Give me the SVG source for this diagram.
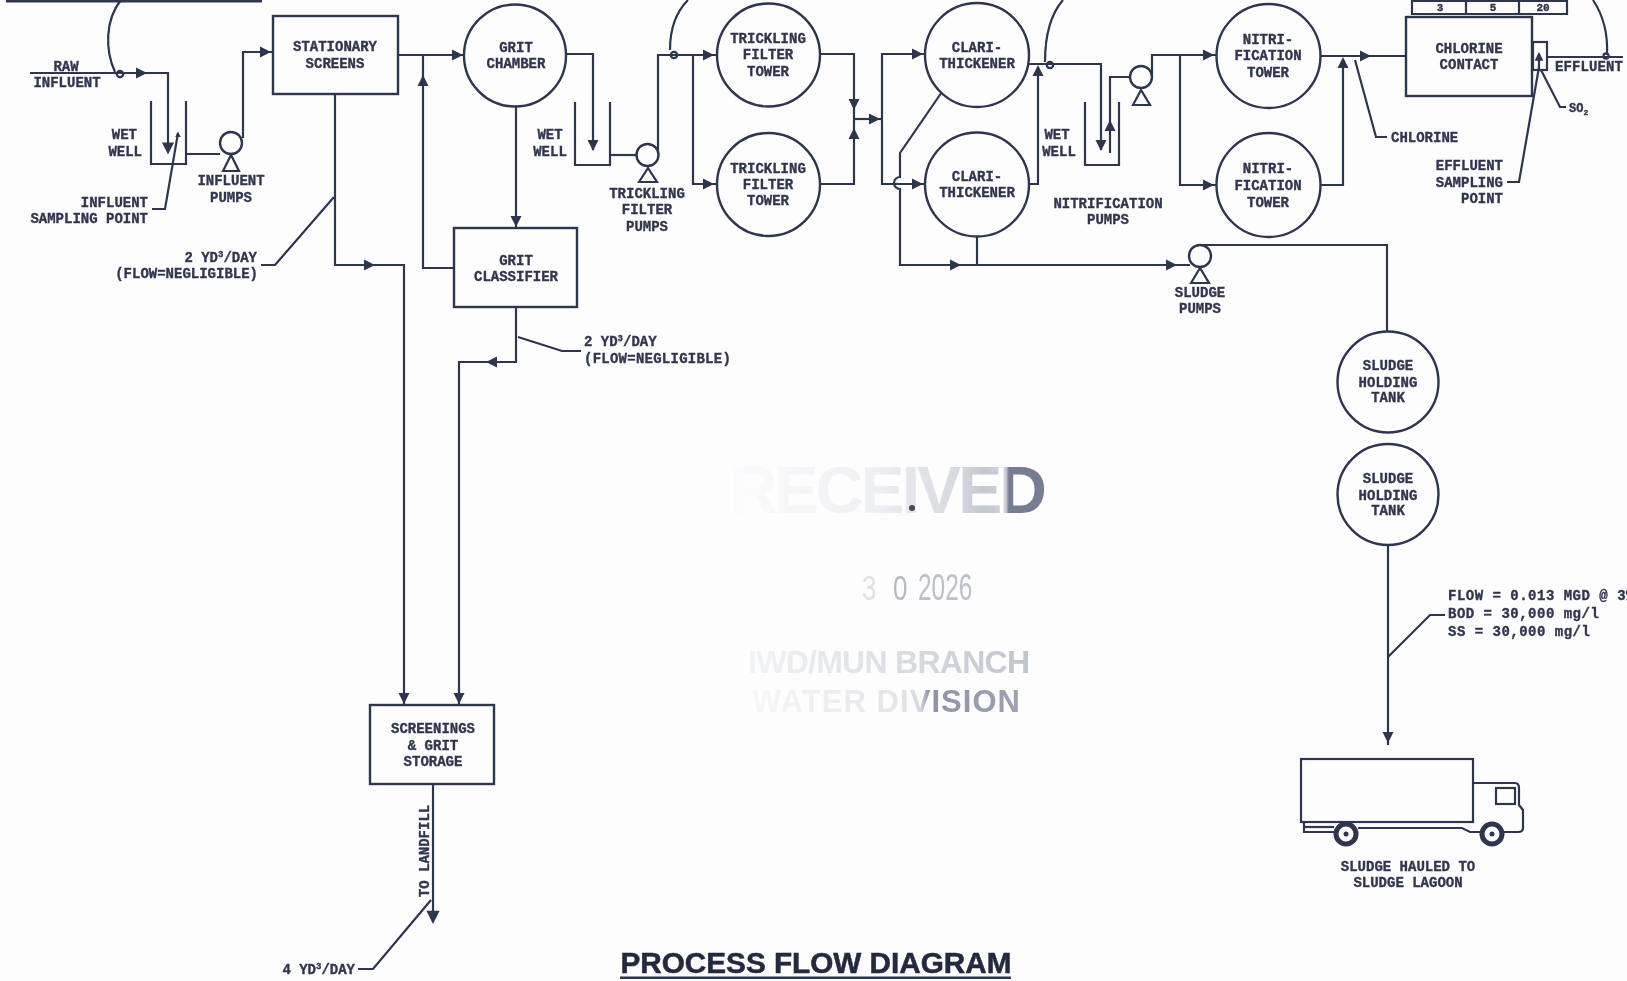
<svg xmlns="http://www.w3.org/2000/svg" width="1627" height="981" viewBox="0 0 1627 981">
<style>
.s{fill:none;stroke:#2d3450;stroke-width:2.2}
.n{fill:#fdfdfe;stroke:#2d3450;stroke-width:2.4}
.a{fill:#2d3450;stroke:none}
text{font-family:"Liberation Mono","DejaVu Sans Mono",monospace;font-size:14px;font-weight:700;fill:#30364f;stroke:#30364f;stroke-width:.35;text-anchor:middle}
.r{text-anchor:end}
.l{text-anchor:start}
.st{font-family:"Liberation Sans",Arial,sans-serif;font-weight:700;stroke:none}
.d{font-family:"Liberation Sans",Arial,sans-serif;font-weight:400;font-size:36px;stroke:none;text-anchor:start}
.sm{font-size:11px}
</style>
<defs>
<path id="ah" d="M-6,-5.5 L5,0 L-6,5.5 Z"/>
<filter id="b" x="0" y="0" width="100%" height="100%"><feGaussianBlur stdDeviation="0.55"/></filter>
<linearGradient id="g1" gradientUnits="userSpaceOnUse" x1="730" y1="0" x2="1047" y2="0">
<stop offset="0" stop-color="#fbfbfd"/><stop offset="0.45" stop-color="#eef0f4"/><stop offset="0.72" stop-color="#d6d9e0"/><stop offset="0.8" stop-color="#c3c7d0"/><stop offset="0.87" stop-color="#cfd2d9"/><stop offset="0.88" stop-color="#767c92"/><stop offset="1" stop-color="#767c92"/>
</linearGradient>
<linearGradient id="g2" gradientUnits="userSpaceOnUse" x1="748" y1="0" x2="1030" y2="0">
<stop offset="0" stop-color="#f2f3f6"/><stop offset="0.5" stop-color="#dcdfe5"/><stop offset="1" stop-color="#bfc3cd"/>
</linearGradient>
<linearGradient id="g3" gradientUnits="userSpaceOnUse" x1="752" y1="0" x2="1020" y2="0">
<stop offset="0" stop-color="#f6f7f9"/><stop offset="0.55" stop-color="#e3e5ea"/><stop offset="0.63" stop-color="#d5d8de"/><stop offset="0.66" stop-color="#8d92a6"/><stop offset="1" stop-color="#9ea3b3"/>
</linearGradient>
</defs>
<rect width="1627" height="981" fill="#fdfdfe"/>
<g filter="url(#b)">
<g id="connectors">
<path class="s" style="stroke-width:3" d="M6,1 H262"/>
<path class="s" d="M30,73 H168 V150"/>
<path class="s" d="M121,0 C105,20 105,50 115,72"/>
<circle class="s" cx="120" cy="74" r="3.2"/>
<path class="s" d="M186,154 H220"/>
<path class="s" d="M243,138 V52 H273"/>
<path class="s" d="M152,209 H165 L178,133"/>
<path class="s" d="M398,55 H464"/>
<path class="s" d="M335,94 V265 H404 V705"/>
<path class="s" d="M334,197 L275,265 H261"/>
<path class="s" d="M454,268 H423 V55"/>
<path class="s" d="M516,106 V228"/>
<path class="s" d="M516,307 V362 H459 V705"/>
<path class="s" d="M518,337 L562,351 H581"/>
<path class="s" d="M433,784 V920"/>
<path class="s" d="M431,900 L373,969 H358"/>
<path class="s" d="M566,54 H593 V150"/>
<path class="s" d="M610,155 H637"/>
<path class="s" d="M658,155 V55 H717"/>
<path class="s" d="M693,55 V184 H717"/>
<path class="s" d="M670,50 C670,28 676,12 688,0"/>
<circle class="s" cx="674" cy="55" r="3.2"/>
<path class="s" d="M820,54 H854 V184 H820"/>
<path class="s" d="M854,119 H882"/>
<path class="s" d="M925,54 H882 V184 H925"/>
<path class="s" d="M946,86 L900,153 V177 A6,6 0 0 0 900,189 V265 H1190"/>
<path class="s" d="M977,236 V265"/>
<path class="s" d="M1029,64 H1101 V150"/>
<path class="s" d="M1029,184 H1038 V68"/>
<path class="s" d="M1045,62 C1045,35 1050,15 1063,0"/>
<circle class="s" cx="1050" cy="65" r="3.2"/>
<path class="s" d="M1130,77 H1110 V153"/>
<path class="s" d="M1152,77 V55 H1216"/>
<path class="s" d="M1180,55 V185 H1216"/>
<path class="s" d="M1321,56 H1406"/>
<path class="s" d="M1321,185 H1343 V60"/>
<path class="s" d="M1355,60 L1376,137 H1387"/>
<path class="s" d="M1547,57 H1623"/>
<path class="s" d="M1593,0 C1603,15 1608,35 1607,55"/>
<circle class="s" cx="1606" cy="56" r="2.6"/>
<path class="s" d="M1539,70 V54"/>
<path class="s" d="M1541,70 L1560,107 H1566"/>
<path class="s" d="M1507,182 H1519 L1539,67"/>
<path class="s" d="M1200,245 H1387 V332"/>
<path class="s" d="M1388,545 V745"/>
<path class="s" d="M1388,657 L1430,615 H1445"/>
<g class="a">
<use href="#ah" transform="translate(142,73)"/>
<use href="#ah" transform="translate(168,149) rotate(90) scale(1.1)"/>
<use href="#ah" transform="translate(178,134) rotate(-90) scale(.5)"/>
<use href="#ah" transform="translate(266,52)"/>
<use href="#ah" transform="translate(458,55)"/>
<use href="#ah" transform="translate(370,265)"/>
<use href="#ah" transform="translate(404,699) rotate(90)"/>
<use href="#ah" transform="translate(423,80) rotate(-90)"/>
<use href="#ah" transform="translate(516,222) rotate(90)"/>
<use href="#ah" transform="translate(491,362) rotate(180)"/>
<use href="#ah" transform="translate(459,699) rotate(90)"/>
<use href="#ah" transform="translate(433,918) rotate(90) scale(1.2)"/>
<use href="#ah" transform="translate(593,146) rotate(90)"/>
<use href="#ah" transform="translate(709,55)"/>
<use href="#ah" transform="translate(709,184)"/>
<use href="#ah" transform="translate(854,105) rotate(90)"/>
<use href="#ah" transform="translate(854,133) rotate(-90)"/>
<use href="#ah" transform="translate(875,119)"/>
<use href="#ah" transform="translate(918,54)"/>
<use href="#ah" transform="translate(918,184)"/>
<use href="#ah" transform="translate(956,265)"/>
<use href="#ah" transform="translate(1172,265)"/>
<use href="#ah" transform="translate(1038,70) rotate(-90)"/>
<use href="#ah" transform="translate(1101,146) rotate(90)"/>
<use href="#ah" transform="translate(1110,125) rotate(-90)"/>
<use href="#ah" transform="translate(1209,55)"/>
<use href="#ah" transform="translate(1209,185)"/>
<use href="#ah" transform="translate(1366,56)"/>
<use href="#ah" transform="translate(1343,62) rotate(-90)"/>
<use href="#ah" transform="translate(1539,56) rotate(-90) scale(.8)"/>
<use href="#ah" transform="translate(1388,738) rotate(90)"/>
</g>
</g>
<g id="raw-influent"><text x="66" y="71">RAW</text><text x="67" y="87">INFLUENT</text></g>
<g id="influent-wet-well"><path class="s" d="M151,101 V164 H186 V101"/><text class="r" x="137" y="139">WET</text><text class="r" x="142" y="156">WELL</text></g>
<g id="influent-sampling"><text class="r" x="148" y="207">INFLUENT</text><text class="r" x="148" y="223">SAMPLING POINT</text></g>
<g id="influent-pumps"><circle class="n" cx="231" cy="143" r="11"/><path class="s" d="M223,171 L231,155 L239,171 Z"/><text x="231" y="185">INFLUENT</text><text x="231" y="202">PUMPS</text></g>
<g id="stationary-screens"><rect class="n" x="273" y="16" width="125" height="78"/><text x="335" y="51">STATIONARY</text><text x="335" y="68">SCREENS</text></g>
<g id="screens-flow"><text class="r" x="257" y="262">2 YD<tspan font-size="9" dy="-5">3</tspan><tspan dy="5">/DAY</tspan></text><text class="r" x="258" y="278">(FLOW=NEGLIGIBLE)</text></g>
<g id="grit-chamber"><circle class="n" cx="515" cy="55.5" r="51"/><text x="516" y="52">GRIT</text><text x="516" y="68">CHAMBER</text></g>
<g id="grit-classifier"><rect class="n" x="454" y="228" width="123" height="79"/><text x="516" y="265">GRIT</text><text x="516" y="281">CLASSIFIER</text></g>
<g id="grit-flow"><text class="l" x="584" y="346">2 YD<tspan font-size="9" dy="-5">3</tspan><tspan dy="5">/DAY</tspan></text><text class="l" x="584" y="363" style="letter-spacing:.25px">(FLOW=NEGLIGIBLE)</text></g>
<g id="tf-wet-well"><path class="s" d="M575,102 V165 H610 V102"/><text x="550" y="139">WET</text><text x="550" y="156">WELL</text></g>
<g id="tf-pumps"><circle class="n" cx="647.5" cy="155" r="11"/><path class="s" d="M639,182 L648,168 L657,182 Z"/><text x="647" y="198">TRICKLING</text><text x="647" y="214">FILTER</text><text x="647" y="231">PUMPS</text></g>
<g id="tf-tower-1"><circle class="n" cx="768.5" cy="55" r="51.5"/><text x="768" y="43">TRICKLING</text><text x="768" y="59">FILTER</text><text x="768" y="76">TOWER</text></g>
<g id="tf-tower-2"><circle class="n" cx="768.5" cy="184.5" r="51.5"/><text x="768" y="173">TRICKLING</text><text x="768" y="189">FILTER</text><text x="768" y="205">TOWER</text></g>
<g id="clari-1"><circle class="n" cx="977" cy="55" r="52"/><text x="977" y="52">CLARI-</text><text x="977" y="68">THICKENER</text></g>
<g id="clari-2"><circle class="n" cx="977" cy="184.5" r="52"/><text x="977" y="181">CLARI-</text><text x="977" y="197">THICKENER</text></g>
<g id="nit-wet-well"><path class="s" d="M1085,102 V165 H1119 V102"/><text x="1057" y="139">WET</text><text x="1059" y="156">WELL</text></g>
<g id="nit-pumps"><circle class="n" cx="1141" cy="77" r="11"/><path class="s" d="M1133,105 L1141,90 L1150,105 Z"/><text x="1108" y="208">NITRIFICATION</text><text x="1108" y="224">PUMPS</text></g>
<g id="nit-tower-1"><circle class="n" cx="1268.5" cy="56" r="52"/><text x="1268" y="44">NITRI-</text><text x="1268" y="60">FICATION</text><text x="1268" y="77">TOWER</text></g>
<g id="nit-tower-2"><circle class="n" cx="1268.5" cy="185" r="52"/><text x="1268" y="173">NITRI-</text><text x="1268" y="190">FICATION</text><text x="1268" y="207">TOWER</text></g>
<g id="chlorine-label"><text class="l" x="1391" y="142">CHLORINE</text></g>
<g id="chlorine-table"><path class="s" d="M1412,1 H1567 V14 H1412 Z M1466,1 V14 M1519,1 V14"/><text class="sm" x="1440" y="11">3</text><text class="sm" x="1493" y="11">5</text><text class="sm" x="1543" y="11">20</text></g>
<g id="chlorine-contact"><rect class="n" x="1406" y="17" width="126" height="79"/><text x="1469" y="53">CHLORINE</text><text x="1469" y="69">CONTACT</text></g>
<g id="dechlor-box"><rect class="s" x="1533" y="42" width="14" height="28"/></g>
<g id="effluent-label"><text class="l" x="1555" y="71" textLength="68">EFFLUENT</text></g>
<g id="so2-label"><text class="l" x="1569" y="112" style="font-size:12px">SO<tspan font-size="8" dy="3">2</tspan></text></g>
<g id="effluent-sampling"><text class="r" x="1503" y="170">EFFLUENT</text><text class="r" x="1503" y="187">SAMPLING</text><text class="r" x="1503" y="203">POINT</text></g>
<g id="sludge-pumps"><circle class="n" cx="1200" cy="256" r="11"/><path class="s" d="M1191,283 L1200,268 L1209,283 Z"/><text x="1200" y="297">SLUDGE</text><text x="1200" y="313">PUMPS</text></g>
<g id="holding-1"><circle class="n" cx="1388" cy="382" r="50.5"/><text x="1388" y="370">SLUDGE</text><text x="1388" y="387">HOLDING</text><text x="1388" y="402">TANK</text></g>
<g id="holding-2"><circle class="n" cx="1388" cy="494.5" r="50.5"/><text x="1388" y="483">SLUDGE</text><text x="1388" y="500">HOLDING</text><text x="1388" y="515">TANK</text></g>
<g id="sludge-data" style="letter-spacing:.5px"><text class="l" x="1448" y="600">FLOW = 0.013 MGD @ 3%</text><text class="l" x="1448" y="618">BOD = 30,000 mg/l</text><text class="l" x="1448" y="636">SS = 30,000 mg/l</text></g>
<g id="truck">
<rect class="s" x="1301" y="759" width="172" height="63"/>
<path class="s" d="M1473,783 H1515 Q1519,783 1519,788 V805 L1523,810 V828 Q1523,832 1518,832 H1504 M1480,832 H1470 L1462,828 H1358 M1334,832 H1304 V822"/>
<path class="s" d="M1304,827 H1334"/>
<rect class="s" x="1496" y="788" width="19" height="16"/>
<circle cx="1346" cy="834" r="10" fill="#fdfdfe" stroke="#2d3450" stroke-width="5"/><circle class="a" cx="1346" cy="834" r="2.5"/>
<circle cx="1492" cy="834" r="10" fill="#fdfdfe" stroke="#2d3450" stroke-width="5"/><circle class="a" cx="1492" cy="834" r="2.5"/>
<text x="1408" y="871">SLUDGE HAULED TO</text><text x="1408" y="887">SLUDGE LAGOON</text>
</g>
<g id="screenings-storage"><rect class="n" x="370" y="705" width="124" height="79"/><text x="433" y="733">SCREENINGS</text><text x="433" y="750">&amp; GRIT</text><text x="433" y="766">STORAGE</text></g>
<g id="landfill"><text transform="translate(429,851) rotate(-90)" x="0" y="0">TO LANDFILL</text><text class="r" x="355" y="974">4 YD<tspan font-size="9" dy="-5">3</tspan><tspan dy="5">/DAY</tspan></text></g>
<g id="stamp">
<text class="st" x="1047" y="513" style="font-size:66px;text-anchor:end;fill:url(#g1)" textLength="317">RECEIVED</text>
<circle cx="912" cy="508" r="3" fill="#40465e"/>
<text class="d" transform="translate(862,600) scale(.72,1)" fill="#dde0e6" style="fill:#dde0e6">3</text>
<text class="d" transform="translate(893,600) scale(.72,1)" style="fill:#b4b9c7">0</text>
<text class="d" transform="translate(918,600) scale(.68,1)" style="fill:#bcc0cc">2026</text>
<text class="st" x="1030" y="673" style="font-size:32px;text-anchor:end;fill:url(#g2)" textLength="282">IWD/MUN BRANCH</text>
<text class="st" x="1020" y="712" style="font-size:31px;text-anchor:end;fill:url(#g3)" textLength="268">WATER DIVISION</text>
</g>
<g id="title"><text class="st" x="816" y="973" style="font-size:29px;fill:#24293f;stroke:#24293f;stroke-width:.5" textLength="391" lengthAdjust="spacingAndGlyphs">PROCESS FLOW DIAGRAM</text><path class="s" style="stroke-width:3" d="M620,978 H1011"/></g>
</g>
</svg>
